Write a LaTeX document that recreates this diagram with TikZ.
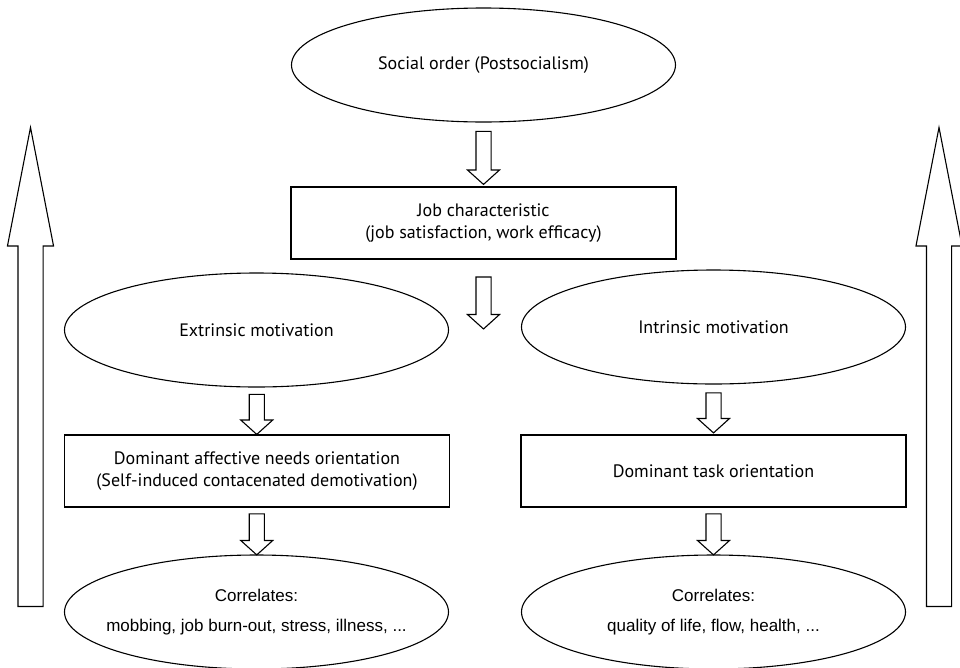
\documentclass[tikz,border=0pt]{standalone}
\usepackage{fontspec}
\setmainfont{PT Sans}
\newfontfamily\arialfont{Liberation Sans}
\usepackage{tikz}
\usetikzlibrary{shapes.geometric,shapes.arrows,calc}

\begin{document}
\begin{tikzpicture}[x=1pt,y=1pt,line width=1.1pt]
					\useasboundingbox (0,0) rectangle (960,-667);
					\tikzstyle{every node}=[font=\fontsize{18}{22}\selectfont];
					\tikzstyle{oval}=[draw,ellipse,inner sep=0pt,minimum width=384pt,minimum height=114pt,align=center];
					\tikzstyle{box}=[draw,rectangle,inner sep=0pt,minimum width=385pt,minimum height=72pt,align=center];
					\tikzstyle{darr}=[draw,single arrow,rotate=-90,inner xsep=0pt,inner ysep=7pt,single arrow head extend=8.5pt,single arrow tip angle=96];
					\tikzstyle{bigarr}=[draw,single arrow,anchor=tail,rotate=90,inner xsep=0pt,inner ysep=12pt,single arrow head extend=10.5pt,single arrow tip angle=22,minimum height=479pt];
					\tikzstyle{corr}=[inner xsep=-60pt,inner ysep=-10pt,font=\arialfont\fontsize{17}{30}\selectfont];
					% middle column
					\path (483.5,-65) node[oval] (v0) {Social order (Postsocialism)};
					\path (483.5,-223) node[box] (v1) {Job characteristic\\(job satisfaction, work efficacy)};
					% left column
					\path (256.5,-330) node[oval] (v2) {Extrinsic motivation};
					\path (257,-471) node[box] (v4) {Dominant affective needs orientation\\(Self-induced contacenated demotivation)};
					\path (256.5,-612) node[oval,corr] (v6) {Correlates:\\mobbing, job burn-out, stress, illness, ...};
					% right column
					\path (713.5,-327) node[oval] (v3) {Intrinsic motivation};
					\path (713.5,-471) node[box] (v5) {Dominant task orientation};
					\path (713.5,-612) node[oval,corr] (v7) {Correlates:\\quality of life, flow, health, ...};
					% hollow arrows
					\path ($(v0.south)!0.5!(v1.north)$) node[darr,minimum height=53pt] (a0) {};
					\path ($(v1.south)+(0,-40)$) node[darr,minimum height=52pt] (a1) {};
					\path ($(v2.south)!0.5!(v4.north)$) node[darr,minimum height=40pt] (a2) {};
					\path ($(v3.south)!0.5!(v5.north)$) node[darr,minimum height=40pt] (a3) {};
					\path ($(v4.south)!0.5!(v6.north)$) node[darr,minimum height=41pt] (a4) {};
					\path ($(v5.south)!0.5!(v7.north)$) node[darr,minimum height=41pt] (a5) {};
					\path (30.5,-607) node[bigarr] (b0) {};
					\path (939,-607) node[bigarr] (b1) {};
					\end{tikzpicture}
\end{document}
